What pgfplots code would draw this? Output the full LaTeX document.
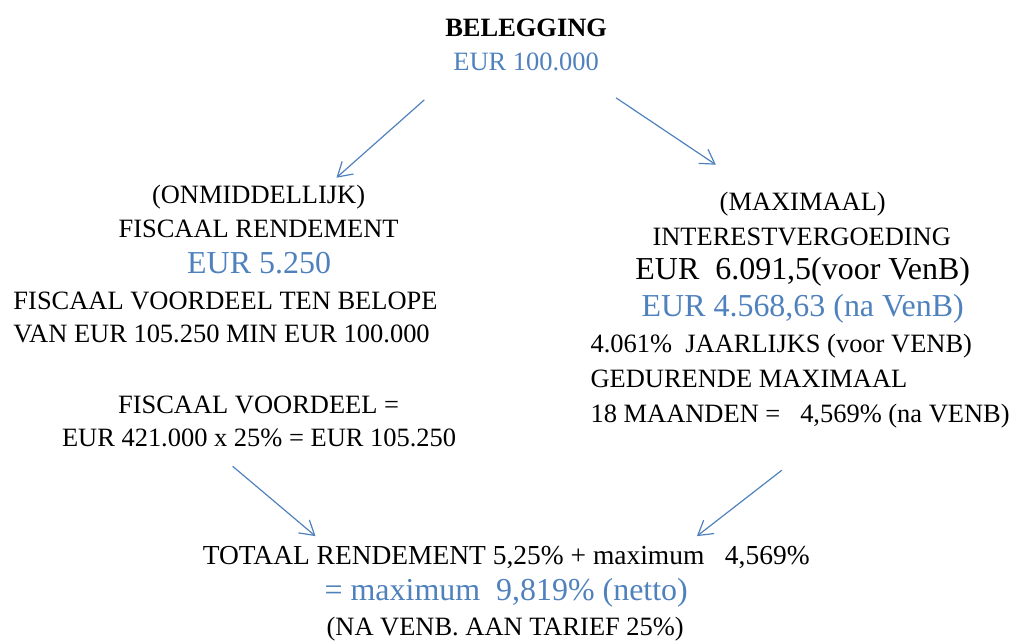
\documentclass[border=0pt]{standalone}
\usepackage{fontspec}
\setmainfont{Liberation Serif}
\usepackage{pgfplots}
\pgfplotsset{compat=1.18}
\usetikzlibrary{arrows.meta}
\definecolor{ofblue}{RGB}{79,129,189}
\newcommand{\nrm}{\fontsize{26.5bp}{32bp}\selectfont}
\newcommand{\bigf}{\fontsize{32bp}{38bp}\selectfont}
\begin{document}
\begin{tikzpicture}
\begin{axis}[
  width=1013bp, height=639bp, scale only axis,
  xmin=0, xmax=1013, ymin=0, ymax=639, y dir=reverse,
  hide axis, clip=false,
  every node/.style={inner sep=0pt, outer sep=0pt},
]
\path (rel axis cs:0,0) rectangle (rel axis cs:1,1);
% arrows
\addplot[ofblue, line width=1.2bp, -{Straight Barb[length=14bp, width=17bp, line width=1.2bp]}] coordinates {(425,100) (337,178)};
\addplot[ofblue, line width=1.2bp, -{Straight Barb[length=14bp, width=17bp, line width=1.2bp]}] coordinates {(617,98) (717,165)};
\addplot[ofblue, line width=1.2bp, -{Straight Barb[length=14bp, width=17bp, line width=1.2bp]}] coordinates {(233,467) (316,537)};
\addplot[ofblue, line width=1.2bp, -{Straight Barb[length=14bp, width=17bp, line width=1.2bp]}] coordinates {(783,471) (698,537)};
% top
\node[anchor=base] at (axis cs:527,37) {\nrm\bfseries BELEGGING};
\node[anchor=base, text=ofblue] at (axis cs:527,71) {\nrm EUR 100.000};
% left block
\node[anchor=base] at (axis cs:259,204) {\nrm (ONMIDDELLIJK)};
\node[anchor=base] at (axis cs:259,238) {\nrm FISCAAL RENDEMENT};
\node[anchor=base, text=ofblue] at (axis cs:259.5,274) {\bigf EUR 5.250};
\node[anchor=base west] at (axis cs:10,310) {\nrm FISCAAL VOORDEEL TEN BELOPE};
\node[anchor=base west] at (axis cs:10,343) {\nrm VAN EUR 105.250 MIN EUR 100.000};
\node[anchor=base] at (axis cs:259,414) {\nrm FISCAAL VOORDEEL =};
\node[anchor=base] at (axis cs:259.5,447) {\nrm EUR 421.000 x 25\% = EUR 105.250};
% right block
\node[anchor=base] at (axis cs:804,211) {\nrm (MAXIMAAL)};
\node[anchor=base] at (axis cs:803,246) {\nrm INTERESTVERGOEDING};
\node[anchor=base] at (axis cs:804,280) {\bigf EUR\ \ 6.091,5(voor VenB)};
\node[anchor=base, text=ofblue] at (axis cs:804,317) {\bigf EUR 4.568,63 (na VenB)};
\node[anchor=base west] at (axis cs:588,353) {\nrm 4.061\%\ \ JAARLIJKS (voor VENB)};
\node[anchor=base west] at (axis cs:588,388) {\nrm GEDURENDE MAXIMAAL};
\node[anchor=base west] at (axis cs:588,423) {\nrm 18 MAANDEN =\ \ \ 4,569\% (na VENB)};
% bottom
\node[anchor=base] at (axis cs:507,565) {\fontsize{27.5bp}{33bp}\selectfont TOTAAL RENDEMENT 5,25\% + maximum\ \ \ 4,569\%};
\node[anchor=base, text=ofblue] at (axis cs:507,601) {\bigf = maximum\ \ 9,819\% (netto)};
\node[anchor=base] at (axis cs:506,636) {\nrm (NA VENB. AAN TARIEF 25\%)};
\end{axis}
\end{tikzpicture}
\end{document}
